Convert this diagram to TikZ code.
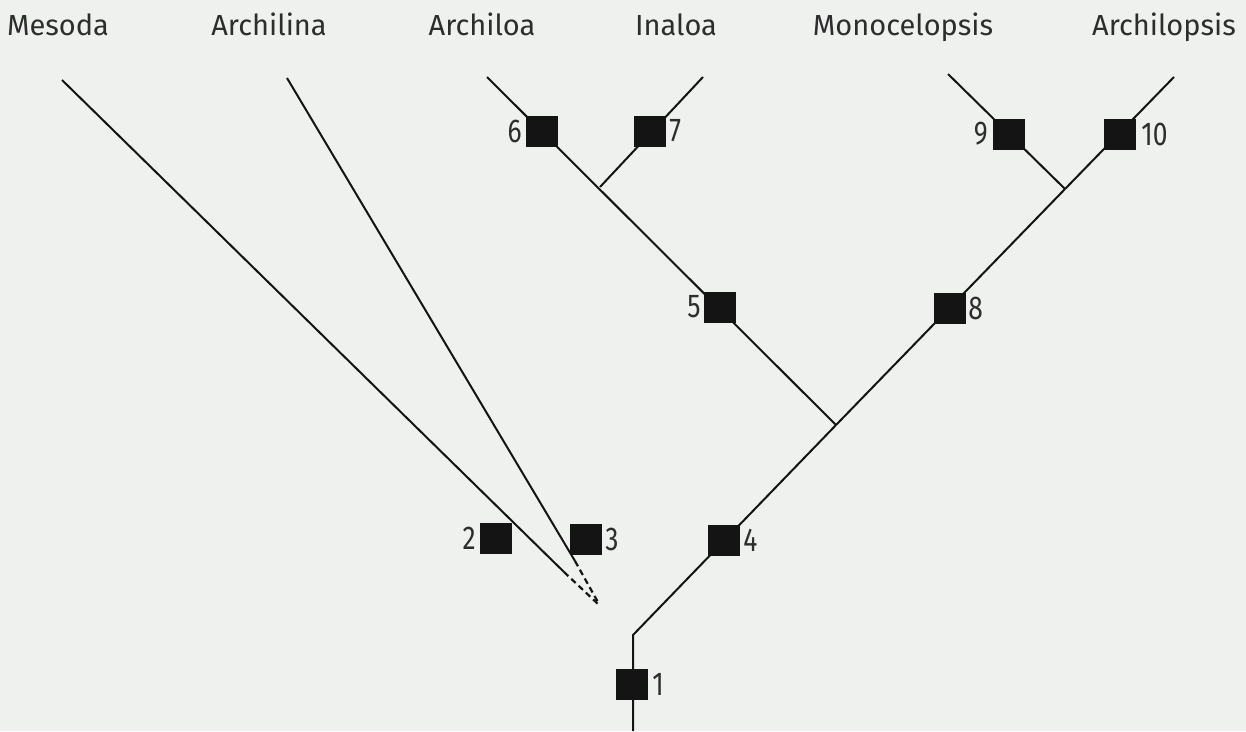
\documentclass[tikz,border=0pt]{standalone}
\usepackage{fontspec}
\setmainfont{Fira Sans}
\newfontfamily\digitfont[FakeStretch=0.8]{Fira Sans}
\definecolor{bgc}{RGB}{239,241,239}
\definecolor{ink}{RGB}{20,20,20}
\definecolor{txt}{RGB}{45,45,45}
\begin{document}
\begin{tikzpicture}[x=1pt,y=-1pt,
  br/.style={line width=2pt, draw=ink},
  brdash/.style={line width=2.2pt, draw=ink, dash pattern=on 6pt off 4pt},
  syn/.style={fill=ink, draw=none, minimum width=32pt, minimum height=31pt, inner sep=0pt},
  num/.style={font=\digitfont\fontsize{33}{33}\selectfont, text=txt, inner sep=0pt},
  taxon/.style={font=\fontsize{29}{29}\selectfont, text=txt, inner sep=0pt, anchor=base}]
\fill[bgc] (0,0) rectangle (1246,731);
\useasboundingbox (0,0) rectangle (1246,731);
% taxa
\node[taxon] (lMes) at (58,35) {Mesoda};
\node[taxon] (lArl) at (269,35) {Archilina};
\node[taxon] (lAra) at (482,35) {Archiloa};
\node[taxon] (lIna) at (676,35) {Inaloa};
\node[taxon] (lMon) at (903,35) {Monocelopsis};
\node[taxon] (lArp) at (1164,35) {Archilopsis};
% coordinates
\coordinate (root) at (633,731);
\coordinate (r1) at (633,635);
\coordinate (j1) at (836,425);
\coordinate (t6) at (487,77);
\coordinate (j67) at (600,187);
\coordinate (t7) at (703,77);
\coordinate (j910) at (1065,189);
\coordinate (t9) at (948,74);
\coordinate (t10) at (1174,77);
\coordinate (tM) at (62,80);
\coordinate (mS) at (564,572);
\coordinate (mD) at (598,604);
\coordinate (tA) at (287,78);
\coordinate (aS) at (575,561);
\coordinate (aD) at (599,604);
% branches
\draw[br] (root) -- (r1) -- (j1);
\draw[br] (j1) -- (t6);
\draw[br] (j67) -- (t7);
\draw[br] (j1) -- (j910);
\draw[br] (j910) -- (t9);
\draw[br] (j910) -- (t10);
\draw[br] (tM) -- (mS);
\draw[brdash] (mS) -- (mD);
\draw[br] (tA) -- (aS);
\draw[brdash] (aS) -- (aD);
% synapomorphies
\node[syn] (b1) at (632,684) {};
\node[syn] (b2) at (496,538) {};
\node[syn] (b3) at (586,539) {};
\node[syn] (b4) at (724,540) {};
\node[syn] (b5) at (720,307) {};
\node[syn] (b6) at (542,131) {};
\node[syn] (b7) at (650,131) {};
\node[syn] (b8) at (950,308) {};
\node[syn] (b9) at (1009,134) {};
\node[syn] (b10) at (1120,134) {};
% numbers
\node[num, anchor=west] (n1) at ([xshift=4pt]b1.east) {1};
\node[num, anchor=east] (n2) at ([xshift=-4pt]b2.west) {2};
\node[num, anchor=west] (n3) at ([xshift=3pt]b3.east) {3};
\node[num, anchor=west] (n4) at ([xshift=3pt]b4.east) {4};
\node[num, anchor=east] (n5) at ([xshift=-3pt]b5.west) {5};
\node[num, anchor=east] (n6) at ([xshift=-4pt]b6.west) {6};
\node[num, anchor=west] (n7) at ([xshift=3pt]b7.east) {7};
\node[num, anchor=west] (n8) at ([xshift=2pt]b8.east) {8};
\node[num, anchor=east] (n9) at ([xshift=-5pt]b9.west) {9};
\node[num, anchor=west] (n10) at ([xshift=5pt]b10.east) {10};
\end{tikzpicture}
\end{document}
